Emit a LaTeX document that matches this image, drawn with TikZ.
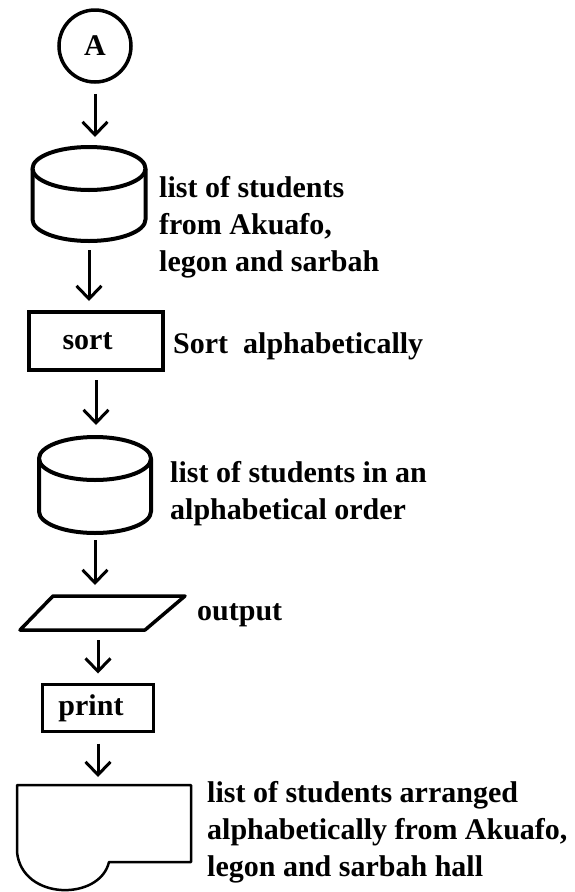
\documentclass[tikz,border=0pt]{standalone}
\usepackage{fontspec}
\setmainfont{Liberation Serif}
\usetikzlibrary{arrows.meta,calc}
\begin{document}
\begin{tikzpicture}[x=1pt,y=-1pt,
  bodyfont/.style={font=\bfseries\fontsize{30}{37}\selectfont},
  lbl/.style={bodyfont, inner sep=0pt, anchor=base west},
  conn/.style={draw, circle, line width=3.5pt, minimum size=72pt, inner sep=0pt, bodyfont},
  procbox/.style={draw, rectangle, inner sep=0pt, bodyfont},
  frame/.style={inner sep=0pt, outer sep=0pt},
  dbline/.style={line width=4pt, line join=round},
  arr/.style={line width=3pt, -{Straight Barb[length=13pt,width=25pt]}}
]
\useasboundingbox (0,0) rectangle (575,892);

% connector
\node[conn] (A) at (95,46) {A};

% first store
\node[frame, minimum width=113pt, minimum height=94pt] (db1) at (89,194) {};
\draw[dbline] ($(db1.north)+(0,21.5)$) ellipse [x radius=56.5pt, y radius=21.5pt];
\draw[dbline] ($(db1.north west)+(0,21.5)$) -- ($(db1.south west)+(0,-21.5)$)
  arc[start angle=180, end angle=360, x radius=56.5pt, y radius=21.5pt]
  -- ($(db1.north east)+(0,21.5)$);

% sort process
\node[procbox, line width=4pt, minimum width=134pt, minimum height=58pt] (sort) at (96,341) {sort\hspace*{17pt}};

% second store
\node[frame, minimum width=112pt, minimum height=96pt] (db2) at (95,485) {};
\draw[dbline] ($(db2.north)+(0,21.5)$) ellipse [x radius=56pt, y radius=21.5pt];
\draw[dbline] ($(db2.north west)+(0,21.5)$) -- ($(db2.south west)+(0,-21.5)$)
  arc[start angle=180, end angle=360, x radius=56pt, y radius=21.5pt]
  -- ($(db2.north east)+(0,21.5)$);

% output (parallelogram)
\node[frame, minimum width=165pt, minimum height=34pt] (out) at (102.5,613) {};
\draw[line width=3.5pt, line join=round] ($(out.north west)+(33,0)$) -- (out.north east)
  -- ($(out.south east)+(-40,0)$) -- (out.south west) -- cycle;

% print process
\node[procbox, line width=3pt, minimum width=111pt, minimum height=47pt] (print) at (98,708) {print\hspace*{14pt}};

% document
\node[frame, minimum width=174pt, minimum height=77pt] (doc) at (104,823.5) {};
\draw[line width=2.5pt, line join=round] ($(doc.south west)+(0,-10)$) -- (doc.north west)
  -- (doc.north east) -- (doc.south east) -- ($(doc.south east)+(-82,0)$)
  .. controls ($(doc.south east)+(-91,39)$) and ($(doc.south west)+(5,39)$) .. ($(doc.south west)+(0,-10)$);

% connectors
\draw[arr, shorten <=10pt, shorten >=10pt] (A.south) -- (A.south |- db1.north);
\draw[arr, shorten <=9pt, shorten >=9pt] (db1.south) -- (db1.south |- sort.north);
\draw[arr, shorten <=8pt, shorten >=12pt] (sort.south) -- (sort.south |- db2.north);
\draw[arr, shorten <=7pt, shorten >=11pt] (db2.south) -- (db2.south |- out.north);
\draw[arr, shorten <=10pt, shorten >=9.5pt] (print.north |- out.south) -- (print.north);
\draw[arr, shorten <=10.5pt, shorten >=8pt] (print.south) -- (print.south |- doc.north);

% annotations
\node[lbl] (t1) at (159,197) {\begin{tabular}[t]{@{}l@{}}list of students\\from Akuafo,\\legon and sarbah\end{tabular}};
\node[lbl] (t2) at (173,353) {Sort\ \ alphabetically};
\node[lbl] (t3) at (170,482) {\begin{tabular}[t]{@{}l@{}}list of students in an\\alphabetical order\end{tabular}};
\node[lbl] (t4) at (197,620) {output};
\node[lbl] (t5) at (207,802) {\begin{tabular}[t]{@{}l@{}}list of students arranged\\alphabetically from Akuafo,\\legon and sarbah hall\end{tabular}};
\end{tikzpicture}
\end{document}
